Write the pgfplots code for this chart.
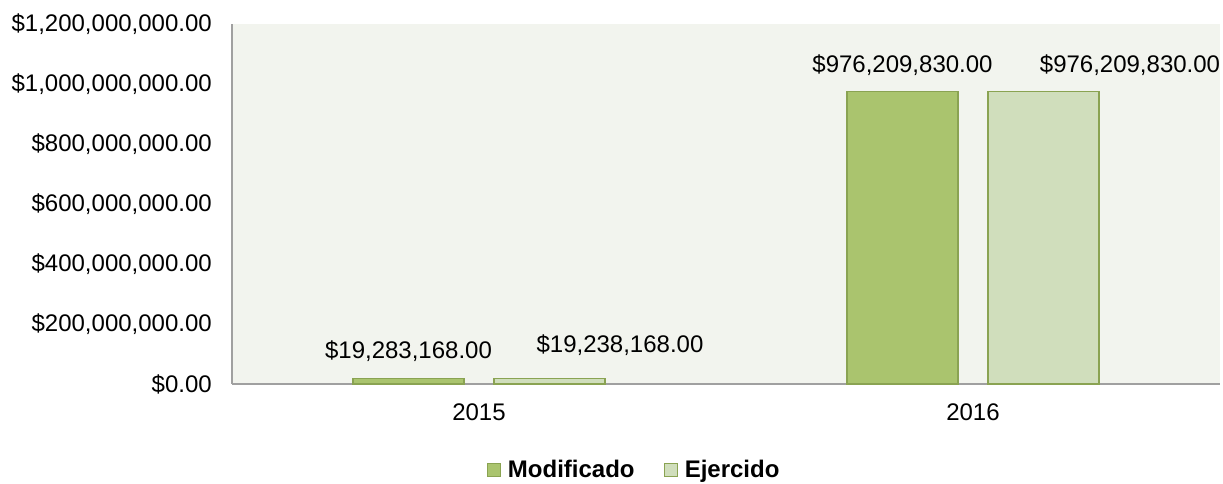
\documentclass[border=0pt]{standalone}
\usepackage{pgfplots}
\pgfplotsset{compat=1.18}
\usepackage{pgfplotstable}
\usepackage{fontspec}
\setmainfont{Liberation Sans}
\definecolor{bgc}{HTML}{F2F4EE}
\definecolor{modc}{HTML}{AAC46E}
\definecolor{ejec}{HTML}{D0DEBC}
\definecolor{edgec}{HTML}{8AA352}
\definecolor{axc}{HTML}{A0A0A0}

\pgfplotstableread{
x y label dx dy
0 19283168 19,283,168.00 0 27
1 976209830 976,209,830.00 0 26
}\modtab
\pgfplotstableread{
x y label dx dy
0 19238168 19,238,168.00 70.5 33
1 976209830 976,209,830.00 86.5 26
}\ejetab

\begin{document}
\begin{tikzpicture}[font=\fontsize{24}{28}\selectfont]
\begin{axis}[name=ax, scale only axis, width=988pt, height=360pt,
  xmin=-0.5, xmax=1.5, ymin=0, ymax=1.2e9,
  clip=false, scaled y ticks=false,
  axis x line*=bottom, axis y line*=left,
  axis line style={draw=axc, line width=1.5pt, -},
  axis background/.style={fill=bgc},
  xtick={0,1}, xticklabels={2015,2016},
  ytick={0,2e8,4e8,6e8,8e8,1e9,1.2e9},
  yticklabels={{\$0.00},{\$200,000,000.00},{\$400,000,000.00},{\$600,000,000.00},{\$800,000,000.00},{\$1,000,000,000.00},{\$1,200,000,000.00}},
  major tick length=0pt,
  yticklabel style={inner sep=0pt, anchor=east, xshift=-20pt, font=\fontsize{24}{28}\selectfont},
  xticklabel style={inner sep=0pt, anchor=north, yshift=-20pt, font=\fontsize{24}{28}\selectfont},
  ybar, bar width=111pt,
  point meta=explicit symbolic,
  nodes near coords={\$\pgfplotspointmeta},
  every node near coord/.append style={anchor=center, xshift=\dx pt, yshift=\dy pt, inner sep=0pt, font=\fontsize{24}{28}\selectfont, text=black},
  legend style={font=\bfseries\fontsize{24}{28}\selectfont, draw=none, fill=none, legend columns=2,
    at={(0.407,-0.239)}, anchor=center, inner sep=0pt,
    /tikz/every even column/.append style={column sep=27pt},
    /tikz/every odd column/.append style={column sep=5pt}},
  legend image code/.code={\draw[#1,line width=1.2pt] (0pt,-6.5pt) rectangle (13pt,6.5pt);},
]
\addplot[fill=modc, draw=edgec, line width=1.2pt, bar shift=-70.5pt,
  visualization depends on={\thisrow{dx}\as\dx},
  visualization depends on={\thisrow{dy}\as\dy}]
  table[x=x, y=y, meta=label] {\modtab};
\addlegendentry{Modificado}
\addplot[fill=ejec, draw=edgec, line width=1.2pt, bar shift=70.5pt,
  visualization depends on={\thisrow{dx}\as\dx},
  visualization depends on={\thisrow{dy}\as\dy}]
  table[x=x, y=y, meta=label] {\ejetab};
\addlegendentry{Ejercido}
\end{axis}
\pgfresetboundingbox
\path[use as bounding box] ([xshift=-232pt,yshift=-100pt]ax.south west) rectangle ([xshift=991pt,yshift=384pt]ax.south west);
\end{tikzpicture}
\end{document}
